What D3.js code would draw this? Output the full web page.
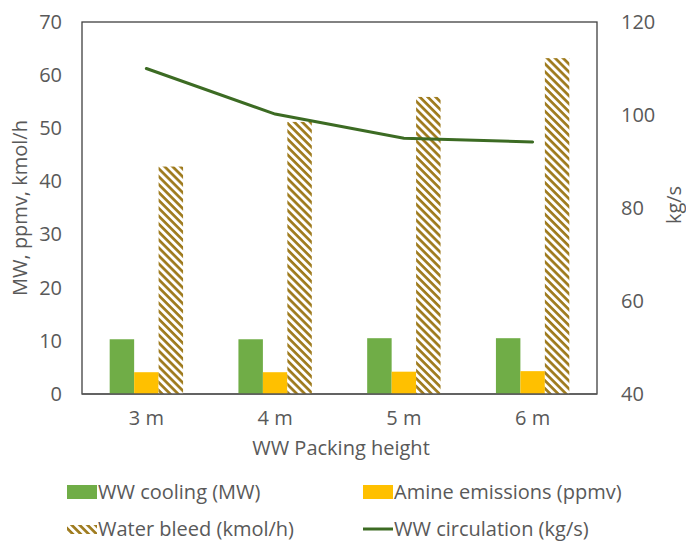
<!DOCTYPE html>
<html><head><meta charset="utf-8">
<script src="https://cdn.jsdelivr.net/npm/d3@7"></script>
<style>body{margin:0;background:#fff}svg{display:block}text{font-family:"Open Sans",sans-serif;fill:#595959}</style>
</head><body><svg id="c" width="686" height="541"></svg>
<script>
const categories = ["3 m","4 m","5 m","6 m"];
const wwCooling = [10.3,10.3,10.5,10.5];
const amineEmissions = [4.1,4.1,4.2,4.3];
const waterBleed = [42.8,51.2,55.9,63.2];
const wwCirculation = [110,100.2,95,94.2];
const leftTicks = [0,10,20,30,40,50,60,70];
const rightTicks = [40,60,80,100,120];

const svg = d3.select("#c");
const L=82,R=597,T=22,B=394;
const x = d3.scaleBand().domain(categories).range([L,R]).paddingInner(0.43).paddingOuter(0.215);
const sub = d3.scaleBand().domain([0,1,2]).range([0,x.bandwidth()]);
const yL = d3.scaleLinear().domain([0,70]).range([B,T]);
const yR = d3.scaleLinear().domain([40,120]).range([B,T]);
const colGreen="#70ad47", colYellow="#ffc000", colHatch="#9e7a1c", colLine="#3c6b23";

const defs = svg.append("defs");
const pat = defs.append("pattern").attr("id","hatch").attr("patternUnits","userSpaceOnUse")
  .attr("width",5.6).attr("height",5.6).attr("patternTransform","rotate(45)");
pat.append("rect").attr("width",5.6).attr("height",5.6).attr("fill","#fff");
pat.append("rect").attr("x",0).attr("y",0).attr("width",5.6).attr("height",2.7).attr("fill",colHatch);

// frame
svg.append("rect").attr("x",L).attr("y",T).attr("width",R-L).attr("height",B-T)
  .attr("fill","none").attr("stroke","#404040").attr("stroke-width",1.3);

const series=[{v:wwCooling,f:colGreen},{v:amineEmissions,f:colYellow},{v:waterBleed,f:"url(#hatch)"}];
series.forEach((s,i)=>{
  svg.append("g").selectAll("rect").data(categories).join("rect")
    .attr("x",d=>x(d)+sub(i)).attr("width",sub.bandwidth())
    .attr("y",(d,j)=>yL(s.v[j])).attr("height",(d,j)=>B-yL(s.v[j]))
    .attr("fill",s.f);
});

// bottom axis line
svg.append("line").attr("x1",L).attr("x2",R).attr("y1",B).attr("y2",B).attr("stroke","#595959").attr("stroke-width",1.5);

// line series
const line = d3.line().x((d,i)=>x(categories[i])+x.bandwidth()/2).y(d=>yR(d));
svg.append("path").datum(wwCirculation).attr("d",line).attr("fill","none")
  .attr("stroke",colLine).attr("stroke-width",3).attr("stroke-linecap","round");

// axes
const fs=20;
const ax = svg.append("g").attr("transform",`translate(0,${B})`).call(d3.axisBottom(x).tickSize(0).tickPadding(17));
ax.select(".domain").remove();
ax.selectAll("text").attr("font-size",fs).attr("fill","#595959").attr("font-family","Open Sans");

const ay = svg.append("g").attr("transform",`translate(${L},0)`).call(d3.axisLeft(yL).tickValues(leftTicks).tickSize(0).tickPadding(20));
ay.select(".domain").remove();
ay.selectAll("text").attr("font-size",fs).attr("fill","#595959").attr("font-family","Open Sans");

const ayr = svg.append("g").attr("transform",`translate(${R},0)`).call(d3.axisRight(yR).tickValues(rightTicks).tickSize(0).tickPadding(24));
ayr.select(".domain").remove();
ayr.selectAll("text").attr("font-size",fs).attr("fill","#595959").attr("font-family","Open Sans");

// titles
svg.append("text").attr("x",341).attr("y",455).attr("text-anchor","middle").attr("font-size",fs).text("WW Packing height");
svg.append("text").attr("transform","translate(27,208) rotate(-90)").attr("text-anchor","middle").attr("font-size",fs).text("MW, ppmv, kmol/h");
svg.append("text").attr("transform","translate(681,205) rotate(-90)").attr("text-anchor","middle").attr("font-size",fs).text("kg/s");

// legend
const lg = svg.append("g");
const items=[
  {t:"WW cooling (MW)",x:67,y:492,type:"rect",f:colGreen},
  {t:"Amine emissions (ppmv)",x:363,y:492,type:"rect",f:colYellow},
  {t:"Water bleed (kmol/h)",x:67,y:529,type:"hatch"},
  {t:"WW circulation (kg/s)",x:363,y:529,type:"line"}
];
items.forEach(it=>{
  if(it.type==="rect") lg.append("rect").attr("x",it.x).attr("y",it.y-7).attr("width",30).attr("height",14).attr("fill",it.f);
  else if(it.type==="hatch") lg.append("rect").attr("x",it.x).attr("y",it.y-4).attr("width",30).attr("height",9).attr("fill","url(#hatch)");
  else lg.append("line").attr("x1",it.x).attr("x2",it.x+30).attr("y1",it.y).attr("y2",it.y).attr("stroke",colLine).attr("stroke-width",3);
  lg.append("text").attr("x",it.x+31).attr("y",it.y).attr("dy","0.35em").attr("font-size",fs).text(it.t);
});
</script></body></html>
